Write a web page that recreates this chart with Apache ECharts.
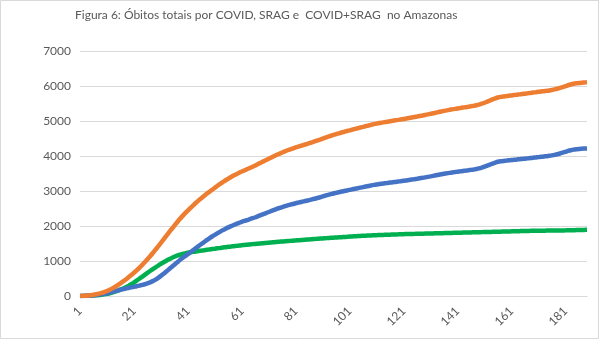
<!DOCTYPE html>
<html>
<head>
<meta charset="utf-8">
<script src="https://cdn.jsdelivr.net/npm/echarts@6/dist/echarts.min.js"></script>
<style>html,body{margin:0;padding:0;background:#fff}#c{width:600px;height:340px}</style>
</head>
<body>
<div id="c"></div>
<script>
const titleText = 'Figura 6: Óbitos totais por COVID, SRAG e  COVID+SRAG  no Amazonas';
const days = [];
for (let d = 1; d <= 189; d++) days.push(String(d));
const yTicks = [0, 1000, 2000, 3000, 4000, 5000, 6000, 7000];

const covid = [
0,3,6,10,15,22,30,40,52,66,
80,98,118,138,158,178,196,214,230,246,
262,278,296,316,335,360,390,425,468,520,
575,635,700,765,830,895,960,1025,1085,1140,
1195,1250,1310,1370,1428,1485,1540,1595,1648,1700,
1748,1795,1840,1882,1922,1960,1995,2028,2060,2090,
2120,2145,2170,2195,2222,2250,2280,2310,2340,2370,
2400,2430,2460,2490,2515,2540,2565,2590,2610,2630,
2650,2668,2686,2704,2722,2740,2760,2780,2800,2822,
2845,2868,2890,2910,2930,2948,2966,2984,3000,3016,
3032,3048,3064,3080,3096,3112,3128,3144,3160,3175,
3188,3200,3210,3220,3230,3240,3250,3260,3270,3280,
3290,3302,3314,3326,3338,3350,3363,3376,3390,3404,
3418,3433,3448,3463,3478,3492,3505,3518,3530,3541,
3552,3562,3572,3582,3592,3603,3615,3628,3645,3668,
3695,3725,3755,3785,3812,3835,3850,3860,3868,3876,
3884,3892,3900,3908,3916,3924,3932,3941,3950,3959,
3968,3977,3986,3995,4005,4017,4032,4050,4072,4096,
4120,4144,4165,4182,4194,4202,4208,4212,4216
];

const srag = [
0,1,3,5,8,12,18,26,36,48,
62,80,100,124,150,180,213,250,290,335,
385,438,492,548,604,660,715,768,820,870,
918,964,1008,1050,1088,1122,1152,1178,1200,1218,
1234,1248,1261,1273,1285,1297,1308,1319,1330,1341,
1352,1363,1374,1385,1395,1405,1414,1423,1432,1441,
1450,1458,1466,1474,1482,1489,1496,1503,1510,1517,
1524,1531,1538,1545,1551,1557,1563,1569,1575,1581,
1587,1593,1599,1605,1611,1617,1623,1629,1635,1641,
1646,1651,1656,1661,1666,1671,1676,1681,1686,1691,
1697,1702,1706,1712,1716,1720,1724,1728,1731,1735,
1738,1741,1744,1747,1750,1753,1756,1759,1762,1765,
1767,1769,1771,1773,1775,1777,1779,1781,1783,1785,
1787,1789,1791,1793,1795,1797,1799,1801,1803,1805,
1807,1809,1811,1813,1815,1817,1819,1821,1823,1825,
1827,1829,1831,1833,1835,1837,1839,1841,1843,1845,
1847,1849,1851,1853,1855,1857,1859,1861,1863,1864,
1865,1866,1867,1868,1869,1870,1871,1872,1873,1874,
1875,1877,1879,1881,1883,1885,1887,1889,1891
];

const covidSrag = [
0,4,9,15,23,34,48,66,88,114,
142,178,218,262,310,362,416,474,535,598,
664,733,806,882,962,1048,1137,1229,1324,1420,
1519,1619,1718,1817,1914,2010,2105,2198,2283,2366,
2442,2517,2591,2664,2732,2795,2858,2921,2979,3037,
3094,3151,3203,3255,3307,3354,3400,3441,3481,3521,
3556,3590,3624,3658,3694,3731,3770,3808,3846,3884,
3922,3960,3998,4036,4068,4100,4132,4164,4191,4218,
4245,4269,4293,4317,4341,4365,4391,4417,4443,4470,
4498,4526,4553,4578,4603,4626,4649,4672,4693,4714,
4734,4754,4774,4794,4814,4834,4854,4873,4892,4910,
4926,4941,4954,4967,4980,4993,5006,5019,5032,5045,
5057,5071,5085,5099,5113,5127,5142,5157,5173,5189,
5205,5222,5239,5256,5273,5289,5304,5319,5333,5346,
5359,5371,5383,5395,5407,5420,5434,5449,5468,5493,
5522,5554,5586,5618,5647,5672,5689,5701,5711,5721,
5731,5741,5751,5761,5771,5781,5791,5802,5813,5823,
5833,5843,5853,5863,5874,5887,5903,5922,5945,5970,
5995,6021,6044,6063,6077,6087,6095,6101,6107
];

const FONT = 'Lato';
const chart = echarts.init(document.getElementById('c'), null, {renderer: 'canvas'});
const lineSeries = (name, data, color) => ({
  name, type: 'line', data, showSymbol: false, smooth: 0.3,
  lineStyle: {color, width: 4.5}, itemStyle: {color}, silent: true, animation: false
});
chart.setOption({
  animation: false,
  backgroundColor: '#fff',
  title: {
    text: titleText, left: 70, top: 4,
    textStyle: {fontFamily: FONT, fontSize: 12, fontWeight: 'normal', color: '#595959'}
  },
  graphic: [{
    type: 'rect', shape: {x: 0.5, y: 0.5, width: 598, height: 338},
    style: {fill: 'none', stroke: '#d9d9d9', lineWidth: 1}, silent: true
  }],
  grid: {left: 80, right: 13, top: 51, bottom: 44, containLabel: false},
  xAxis: {
    type: 'category', data: days, boundaryGap: false,
    axisLine: {show: true, lineStyle: {color: '#d9d9d9', width: 1}},
    axisTick: {show: false},
    axisLabel: {interval: 19, rotate: 45, color: '#595959', fontFamily: FONT, fontSize: 12, margin: 13},
    splitLine: {show: false}
  },
  yAxis: {
    type: 'value', min: yTicks[0], max: yTicks[yTicks.length - 1], interval: 1000,
    axisLine: {show: false}, axisTick: {show: false},
    axisLabel: {color: '#595959', fontFamily: FONT, fontSize: 12, margin: 9, formatter: v => String(v)},
    splitLine: {lineStyle: {color: '#d9d9d9', width: 1}}
  },
  series: [
    lineSeries('SRAG', srag, '#00B050'),
    lineSeries('COVID', covid, '#4472C4'),
    lineSeries('COVID+SRAG', covidSrag, '#ED7D31')
  ]
});
</script>
</body>
</html>
